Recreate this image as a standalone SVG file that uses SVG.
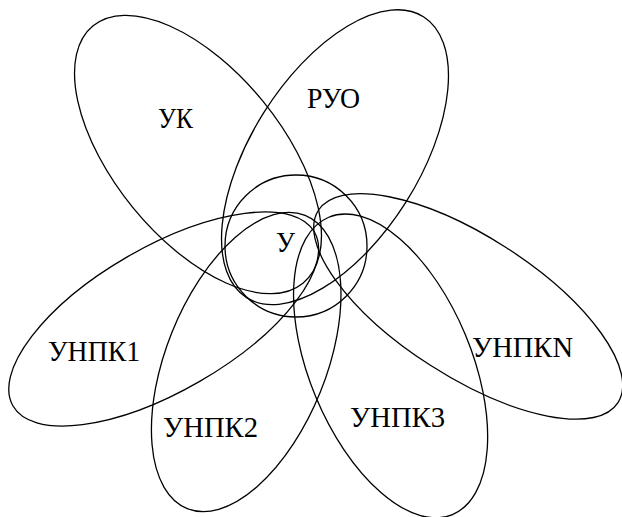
<svg xmlns="http://www.w3.org/2000/svg" width="622" height="517" viewBox="0 0 622 517">
  <style>
    .shape { fill: none; stroke: #000; stroke-width: 1.3; }
    .lbl { font-family: "Liberation Serif", "Times New Roman", serif; font-size: 29px; fill: #000; }
  </style>
  <rect width="622" height="517" fill="#fff"/>
  <g id="node-uk">
    <ellipse class="shape" cx="198" cy="154.5" rx="166" ry="84" transform="rotate(50.8 198 154.5)"/>
    <text class="lbl" x="158" y="128" textLength="35" lengthAdjust="spacingAndGlyphs">УК</text>
  </g>
  <g id="node-ruo">
    <ellipse class="shape" cx="335" cy="157.2" rx="166" ry="84" transform="rotate(122.2 335 157.2)"/>
    <text class="lbl" x="307" y="108" textLength="53" lengthAdjust="spacingAndGlyphs">РУО</text>
  </g>
  <g id="node-unpk1">
    <ellipse class="shape" cx="163.7" cy="319" rx="174" ry="72" transform="rotate(-30 163.7 319)"/>
    <text class="lbl" x="48" y="361" textLength="92" lengthAdjust="spacingAndGlyphs">УНПК1</text>
  </g>
  <g id="node-unpk2">
    <ellipse class="shape" cx="246.2" cy="362" rx="158" ry="80" transform="rotate(-68.1 246.2 362)"/>
    <text class="lbl" x="163" y="437" textLength="95" lengthAdjust="spacingAndGlyphs">УНПК2</text>
  </g>
  <g id="node-unpk3">
    <ellipse class="shape" cx="390.6" cy="365.9" rx="161" ry="81" transform="rotate(67.4 390.6 365.9)"/>
    <text class="lbl" x="350" y="427" textLength="95" lengthAdjust="spacingAndGlyphs">УНПК3</text>
  </g>
  <g id="node-unpkn">
    <ellipse class="shape" cx="468.2" cy="306.4" rx="178" ry="70" transform="rotate(32.7 468.2 306.4)"/>
    <text class="lbl" x="472" y="357" textLength="101" lengthAdjust="spacingAndGlyphs">УНПКN</text>
  </g>
  <g id="node-u">
    <circle class="shape" cx="296" cy="246" r="71"/>
    <text class="lbl" x="276" y="252" textLength="19" lengthAdjust="spacingAndGlyphs">У</text>
  </g>
  <g id="connectors"></g>
</svg>
